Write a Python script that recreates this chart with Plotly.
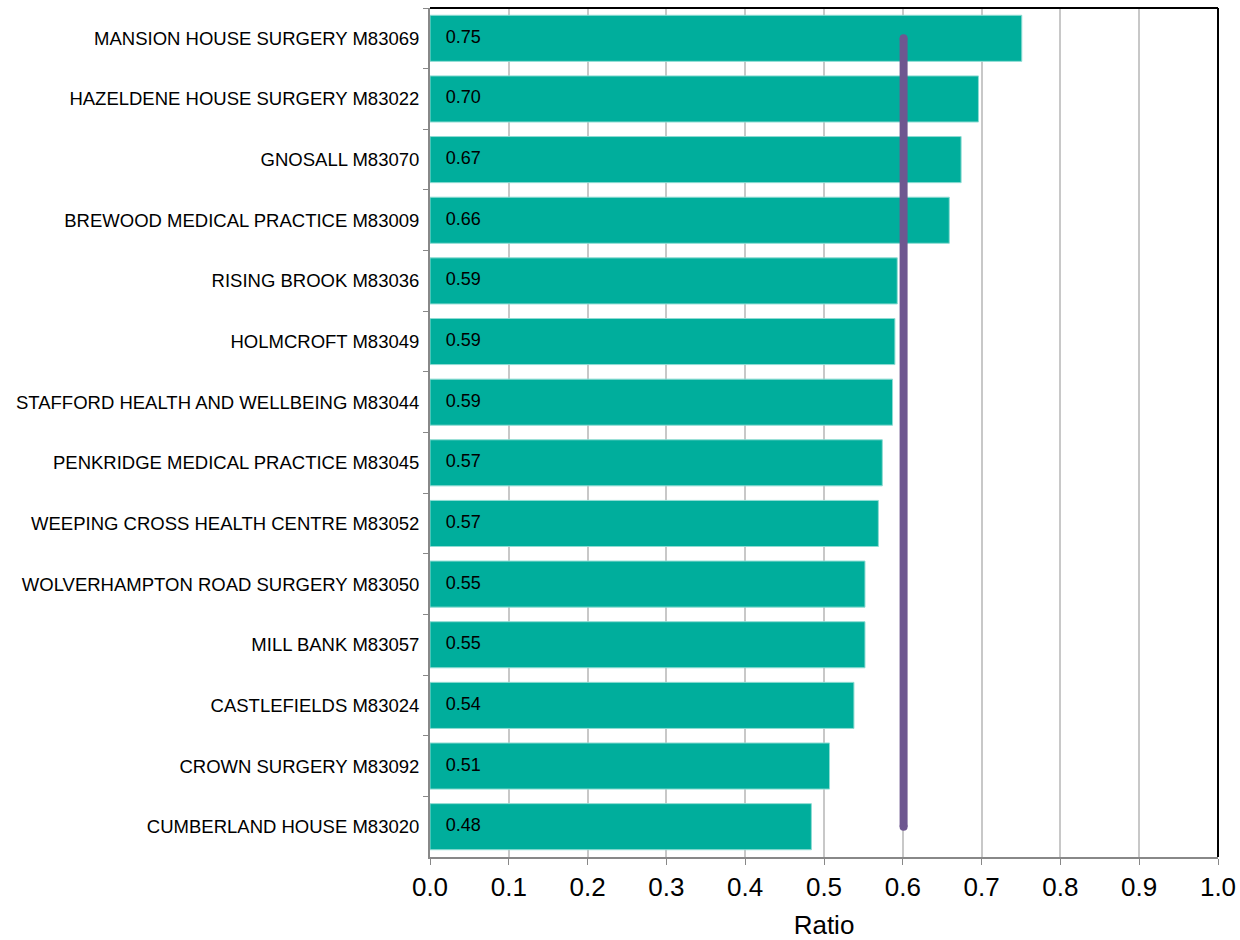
import plotly.graph_objects as go

practices = [
    "MANSION HOUSE SURGERY M83069",
    "HAZELDENE HOUSE SURGERY M83022",
    "GNOSALL M83070",
    "BREWOOD MEDICAL PRACTICE M83009",
    "RISING BROOK M83036",
    "HOLMCROFT M83049",
    "STAFFORD HEALTH AND WELLBEING M83044",
    "PENKRIDGE MEDICAL PRACTICE M83045",
    "WEEPING CROSS HEALTH CENTRE M83052",
    "WOLVERHAMPTON ROAD SURGERY M83050",
    "MILL BANK M83057",
    "CASTLEFIELDS M83024",
    "CROWN SURGERY M83092",
    "CUMBERLAND HOUSE M83020",
]
ratios = [0.751, 0.696, 0.674, 0.659, 0.593, 0.590, 0.587, 0.574, 0.569,
          0.552, 0.552, 0.538, 0.507, 0.484]
benchmark = 0.601
x_ticks = [0.0, 0.1, 0.2, 0.3, 0.4, 0.5, 0.6, 0.7, 0.8, 0.9, 1.0]

font = "Liberation Sans, Arial, sans-serif"
n = len(practices)

fig = go.Figure()
fig.add_trace(go.Bar(
    y=practices, x=ratios, orientation="h",
    marker=dict(color="#00AE9C", line=dict(color="#8FDCD3", width=1)),
    hoverinfo="x+y", showlegend=False,
))
fig.add_trace(go.Scatter(
    y=practices, x=[0.02] * n, mode="text",
    text=[f"{v:.2f}" for v in ratios], textposition="middle right",
    textfont=dict(family=font, size=18, color="#000000"),
    showlegend=False, hoverinfo="skip",
))
fig.add_trace(go.Scatter(
    y=[practices[0], practices[-1]], x=[benchmark, benchmark], mode="lines+markers",
    line=dict(color="#6E5790", width=8),
    marker=dict(color="#6E5790", size=8, line=dict(width=0)),
    showlegend=False,
))

fig.update_layout(
    width=1240, height=940,
    margin=dict(l=430, r=22, t=8, b=83, autoexpand=False),
    paper_bgcolor="white", plot_bgcolor="white",
    bargap=0.24,
    font=dict(family=font, color="#000000"),
    shapes=[
        dict(type="line", xref="paper", yref="paper", x0=0, x1=1, y0=1, y1=1,
             line=dict(color="#000000", width=2)),
        dict(type="line", xref="paper", yref="paper", x0=1, x1=1, y0=0, y1=1,
             line=dict(color="#000000", width=2)),
    ],
)
fig.update_xaxes(
    range=[0, 1.0], tickvals=x_ticks, ticktext=[f"{t:.1f}" for t in x_ticks],
    showgrid=True, gridcolor="#C8C8C8", gridwidth=1.5,
    showline=True, linecolor="#888888", linewidth=2,
    ticks="outside", ticklen=6, tickcolor="#888888",
    tickfont=dict(size=26, family=font, color="#000000"),
    title=dict(text="Ratio", font=dict(size=26, family=font, color="#000000"), standoff=21),
    zeroline=False, automargin=False,
)
fig.update_yaxes(
    type="category", categoryorder="array", categoryarray=practices,
    range=[n - 0.5, -0.5],
    showline=True, linecolor="#888888", linewidth=2,
    ticks="outside", ticklen=5, tickcolor="#888888", tickson="boundaries",
    ticklabelstandoff=5,
    tickfont=dict(size=18.5, family=font, color="#000000"),
    showgrid=False, automargin=False,
)

fig.write_html(
    "out.html",
    config={"displayModeBar": False},
    post_script=(
        "document.body.style.margin='0';"
        "document.documentElement.style.overflow='hidden';"
        "document.body.style.overflow='hidden';"
    ),
)
